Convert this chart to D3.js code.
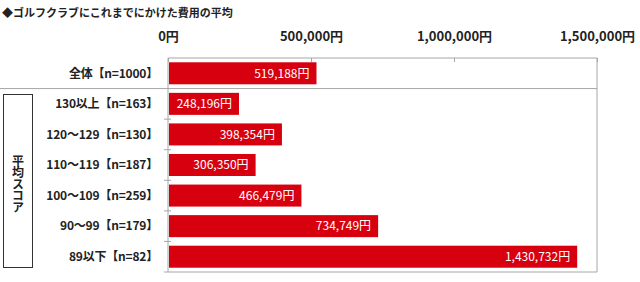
<!DOCTYPE html>
<html lang="ja">
<head>
    <meta charset="UTF-8">
    <title>ゴルフクラブにこれまでにかけた費用の平均</title>
    <script src="https://d3js.org/d3.v7.min.js"></script>
    <style>
        body { margin: 0; background: #fff; }
        text { font-family: "Noto Sans CJK JP", "Noto Sans", sans-serif; fill: #222; }
        .cat { font-size: 12px; font-weight: bold; letter-spacing: -0.2px; }
        .grp { font-size: 12px; font-weight: bold; writing-mode: vertical-rl; letter-spacing: -0.5px; }
        .val { font-size: 12px; fill: #fff; }
        .axis text { font-size: 13px; font-weight: bold; fill: #222; }
        .grid { stroke: #a6a6a6; stroke-width: 1; fill: none; }
    </style>
</head>
<body>
<script>

    // data
    var categories = ["全体【n=1000】", "130以上【n=163】", "120～129【n=130】", "110～119【n=187】",
        "100～109【n=259】", "90～99【n=179】", "89以下【n=82】"];
    var values = [519188, 248196, 398354, 306350, 466479, 734749, 1430732];
    var tickValues = [0, 500000, 1000000, 1500000];
    var groupLabel = "平均スコア";

    var width = 640, height = 282;
    var plot = {left: 168, right: 597, top: 58, bottom: 272};

    var svg = d3.select("body").append("svg")
        .attr("width", width)
        .attr("height", height);

    // title
    svg.append("text")
        .attr("x", 2)
        .attr("y", 17)
        .style("font-size", "11px")
        .style("font-weight", "bold")
        .text("◆ゴルフクラブにこれまでにかけた費用の平均");

    var x = d3.scaleLinear().domain([0, 1500000]).range([plot.left, plot.right]);
    var y = d3.scaleBand().domain(categories).range([plot.top, plot.bottom])
        .paddingInner(0.28).paddingOuter(0.14);
    var gap = y.step() * y.paddingInner() / 2;

    // plot frame (top / right / bottom)
    svg.append("path")
        .attr("class", "grid")
        .attr("d", "M" + plot.left + "," + plot.top + "H" + plot.right + "V" + plot.bottom + "H" + plot.left);

    // top axis
    var xAxis = d3.axisTop(x)
        .tickValues(tickValues)
        .tickSizeInner(-4)
        .tickSizeOuter(0)
        .tickPadding(17)
        .tickFormat(function(d) { return d3.format(",")(d) + "円"; });

    var gx = svg.append("g")
        .attr("class", "axis")
        .attr("transform", "translate(0," + plot.top + ")")
        .call(xAxis);
    gx.select(".domain").remove();
    gx.selectAll(".tick line").attr("stroke", "#a6a6a6");

    // separator between 全体 and the score groups
    var sepY = y(categories[1]) - gap;
    svg.append("line")
        .attr("class", "grid")
        .attr("x1", 0).attr("x2", plot.right)
        .attr("y1", sepY).attr("y2", sepY);

    // bars
    svg.selectAll(".bar")
        .data(values)
        .enter().append("rect")
        .attr("class", "bar")
        .attr("x", x(0) + 1)
        .attr("y", function(d, i) { return y(categories[i]); })
        .attr("width", function(d) { return x(d) - x(0) - 1; })
        .attr("height", y.bandwidth())
        .attr("fill", "#d7000f");

    // value labels
    svg.selectAll(".val")
        .data(values)
        .enter().append("text")
        .attr("class", "val")
        .attr("x", function(d) { return x(d) - 7; })
        .attr("y", function(d, i) { return y(categories[i]) + y.bandwidth() / 2; })
        .attr("dy", "0.36em")
        .attr("text-anchor", "end")
        .text(function(d) { return d3.format(",")(d) + "円"; });

    // left axis line + boundary ticks
    svg.append("line")
        .attr("class", "grid")
        .attr("x1", plot.left).attr("x2", plot.left)
        .attr("y1", plot.top).attr("y2", plot.bottom);

    var bounds = categories.slice(2).map(function(c) { return y(c) - gap; });
    svg.selectAll(".ytick")
        .data(bounds)
        .enter().append("line")
        .attr("class", "grid")
        .attr("x1", plot.left - 4).attr("x2", plot.left + 3)
        .attr("y1", function(d) { return d; })
        .attr("y2", function(d) { return d; });
    svg.append("line")
        .attr("class", "grid")
        .attr("x1", plot.left - 4).attr("x2", plot.left)
        .attr("y1", plot.bottom).attr("y2", plot.bottom);

    // category labels
    svg.selectAll(".cat")
        .data(categories)
        .enter().append("text")
        .attr("class", "cat")
        .attr("x", 158)
        .attr("y", function(d) { return y(d) + y.bandwidth() / 2; })
        .attr("dy", "0.36em")
        .attr("text-anchor", "end")
        .text(function(d) { return d; });

    // group box "平均スコア"
    svg.append("rect")
        .attr("x", 3.5).attr("y", 94.5)
        .attr("width", 29).attr("height", 173)
        .attr("fill", "none")
        .attr("stroke", "#333");

    svg.append("text")
        .attr("class", "grp")
        .attr("x", 18)
        .attr("y", 184)
        .attr("text-anchor", "middle")
        .text(groupLabel);

</script>
</body>
</html>
